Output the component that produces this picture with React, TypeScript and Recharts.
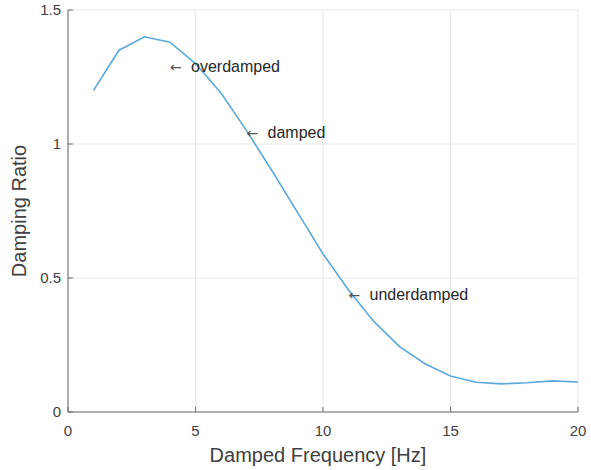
import { ComposedChart, Line, XAxis, YAxis, CartesianGrid, ReferenceDot } from 'recharts'

const freqs = [1, 2, 3, 4, 5, 6, 7, 8, 9, 10, 11, 12, 13, 14, 15, 16, 17, 18, 19, 20]
const ratios = [1.2, 1.35, 1.4, 1.38, 1.3, 1.19, 1.05, 0.9, 0.745, 0.59, 0.455, 0.337, 0.244, 0.18, 0.134, 0.111, 0.105, 0.109, 0.116, 0.112]

const xTicks = [0, 5, 10, 15, 20]
const yTicks = [0, 0.5, 1, 1.5]

const noteText = ['overdamped', 'damped', 'underdamped']
const noteX = [4, 7, 11]
const noteY = [1.29, 1.045, 0.44]

const data = freqs.map((f, i) => ({ f, r: ratios[i] }))
const notes = noteText.map((t, i) => ({ t, x: noteX[i], y: noteY[i] }))

const FONT = '"Liberation Sans", Arial, Helvetica, sans-serif'
const AXIS = '#6b6b6b'
const TXT = '#404040'
const TICK_LEN = 5

const BottomTick = (p: any) => {
  const ay = p.y - 13
  return (
    <g>
      <line x1={p.x} x2={p.x} y1={ay} y2={ay - TICK_LEN} stroke={AXIS} />
      <text x={p.x} y={p.y} dy="0.71em" textAnchor="middle" fontSize={15} fill={TXT} fontFamily={FONT}>
        {p.payload.value}
      </text>
    </g>
  )
}

const LeftTick = (p: any) => {
  const ax = p.x + 7
  return (
    <g>
      <line x1={ax} x2={ax + TICK_LEN} y1={p.y} y2={p.y} stroke={AXIS} />
      <text x={p.x} y={p.y} dy="0.35em" textAnchor="end" fontSize={15} fill={TXT} fontFamily={FONT}>
        {p.payload.value}
      </text>
    </g>
  )
}

const TopTick = (p: any) => (
  <line x1={p.x} x2={p.x} y1={p.y} y2={p.y + TICK_LEN} stroke={AXIS} />
)

const RightTick = (p: any) => (
  <line x1={p.x} x2={p.x - TICK_LEN} y1={p.y} y2={p.y} stroke={AXIS} />
)

// matlab style "\leftarrow text" annotation
const Note = (t: string) => (p: any) => (
  <text y={p.cy} dy="0.35em" fontSize={16} fill="#262626" fontFamily={FONT}>
    <tspan x={p.cx} fontFamily="'DejaVu Sans', sans-serif" fontSize={14} fill="#555">{'\u2190'}</tspan>
    <tspan x={p.cx + 21}>{t}</tspan>
  </text>
)

export default function App() {
  return (
    <div style={{ position: 'absolute', left: 0, top: 0, width: 591, height: 470, background: '#fff' }}>
      <ComposedChart width={591} height={470} data={data} margin={{ top: 10, right: 13, left: 0, bottom: 0 }}>
        <CartesianGrid stroke="#e6e6e6" />
        <XAxis
          dataKey="f"
          type="number"
          domain={[0, 20]}
          ticks={xTicks}
          interval={0}
          height={58}
          tickSize={0}
          tickMargin={13}
          tick={BottomTick}
          axisLine={{ stroke: AXIS }}
          label={{
            content: ({ viewBox }: any) => (
              <text x={viewBox.x + viewBox.width / 2 - 5} y={viewBox.y + 50} textAnchor="middle"
                fontSize={20} fill={TXT} fontFamily={FONT}>
                Damped Frequency [Hz]
              </text>
            ),
          }}
        />
        <XAxis
          xAxisId="top"
          orientation="top"
          dataKey="f"
          type="number"
          domain={[0, 20]}
          ticks={xTicks}
          interval={0}
          height={0}
          tickSize={0}
          tickMargin={0}
          tick={TopTick}
          axisLine={{ stroke: AXIS }}
        />
        <YAxis
          type="number"
          domain={[0, 1.5]}
          ticks={yTicks}
          interval={0}
          width={68}
          tickSize={0}
          tickMargin={7}
          tick={LeftTick}
          axisLine={{ stroke: AXIS }}
          label={{
            content: ({ viewBox }: any) => {
              const cy = viewBox.y + viewBox.height / 2
              return (
                <text x={26} y={cy} transform={`rotate(-90 26 ${cy})`} textAnchor="middle"
                  fontSize={20} fill={TXT} fontFamily={FONT}>
                  Damping Ratio
                </text>
              )
            },
          }}
        />
        <YAxis
          yAxisId="right"
          orientation="right"
          type="number"
          domain={[0, 1.5]}
          ticks={yTicks}
          interval={0}
          width={0}
          tickSize={0}
          tickMargin={0}
          tick={RightTick}
          axisLine={{ stroke: AXIS }}
        />
        <Line
          dataKey="r"
          type="linear"
          stroke="#5aa8dc"
          strokeWidth={1.6}
          dot={false}
          isAnimationActive={false}
        />
        {notes.map(n => (
          <ReferenceDot key={n.t} x={n.x} y={n.y} r={0} shape={Note(n.t)} />
        ))}
      </ComposedChart>
    </div>
  )
}
